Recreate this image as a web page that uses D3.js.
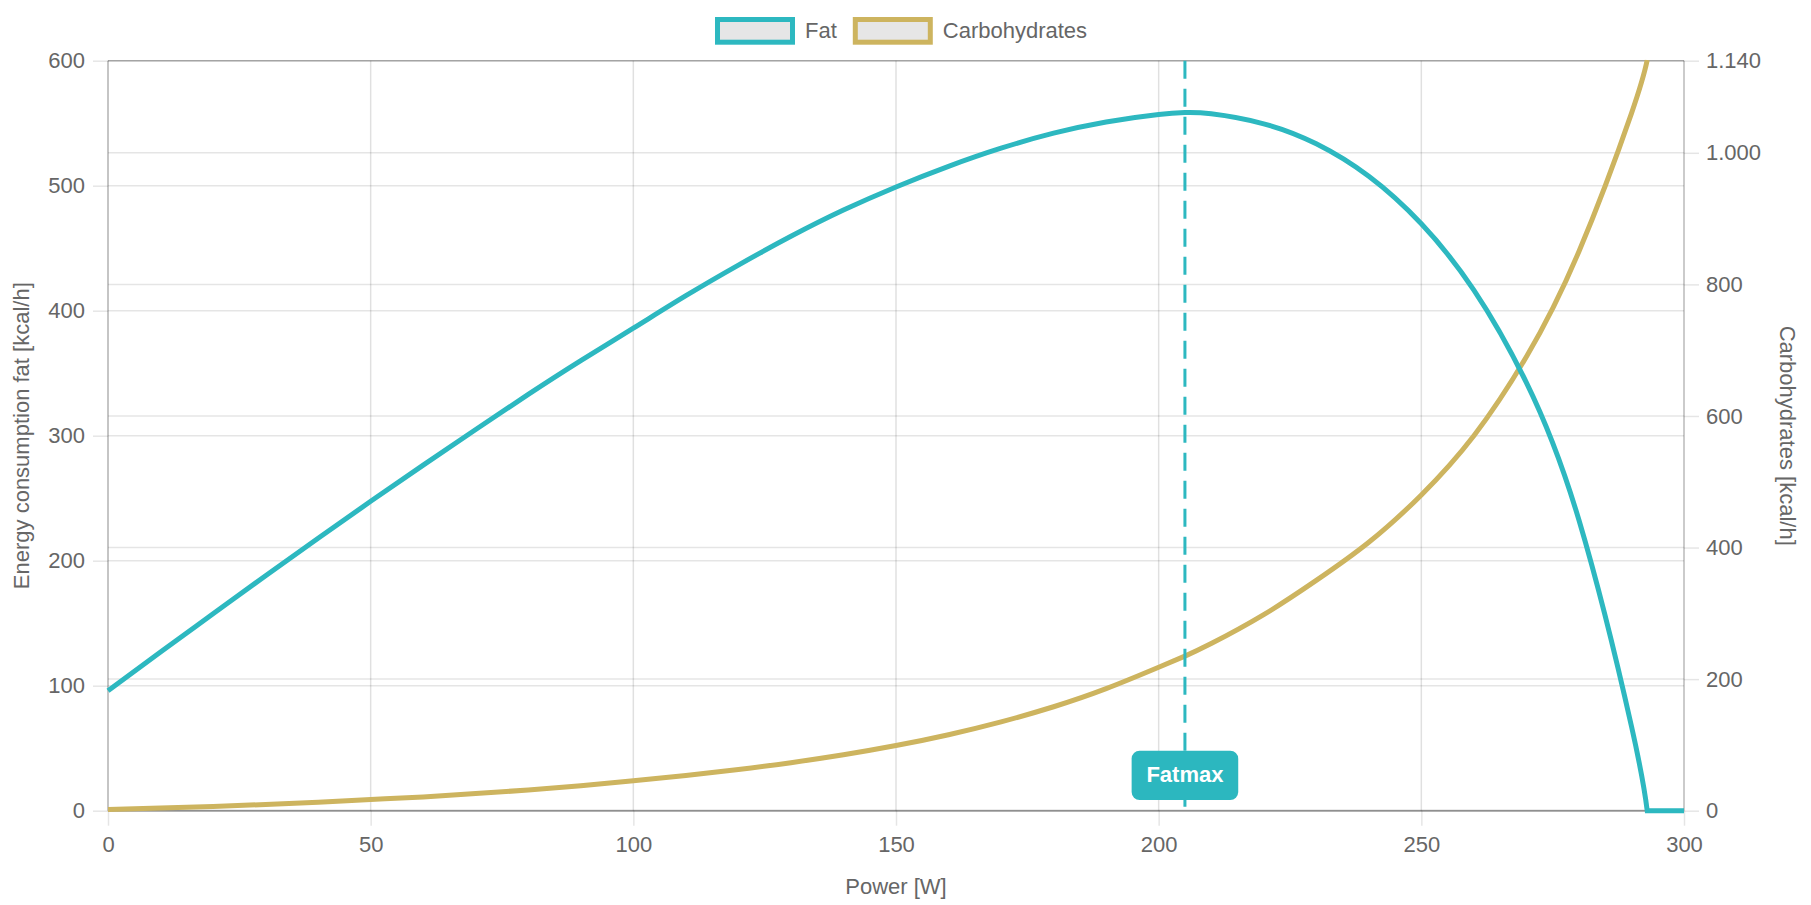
<!DOCTYPE html>
<html>
<head>
<meta charset="utf-8">
<script src="https://cdn.jsdelivr.net/npm/d3@7"></script>
<style>
  body { margin: 0; background: #fff; }
  svg text { font-family: "Liberation Sans", Arial, Helvetica, sans-serif; fill: #666; }
</style>
</head>
<body>
<div id="chart"></div>
<script>
// values
const power = [0, 10, 20, 30, 40, 50, 60, 70, 80, 90, 100, 110, 120, 130, 140, 150, 160, 170, 180, 190, 200, 205,
               210, 220, 230, 240, 250, 260, 270, 280, 290, 293, 300];
const fat = [96, 127, 157.5, 188, 218, 247.5, 276.5, 305, 333, 360, 386, 412, 436.5, 459.5, 480.5, 499, 515.5, 530, 542, 551, 557, 558.5,
             557.5, 549.5, 533.5, 507.5, 469.5, 416.5, 342.5, 232.5, 67.5, 0, 0];
const carbs = [2, 4, 6.5, 9.5, 13, 17, 21, 26, 31.5, 38, 45.5, 53.5, 62.5, 73, 85, 99, 115.5, 135, 158, 185.5, 218, 235,
               254, 298, 350, 408, 480, 570, 690, 850, 1060, 1141, null];
const powerTicks = [0, 50, 100, 150, 200, 250, 300];
const fatTicks = [0, 100, 200, 300, 400, 500, 600];
const carbTicks = [0, 200, 400, 600, 800, 1000, 1140];
const fatmax = 205;
const fatZeroFrom = 293;
const seriesNames = ['Fat', 'Carbohydrates'];
const seriesColors = ['#2db8c0', '#cdb45f'];

const width = 1811, height = 905;
const margin = {top: 60.7, right: 127, bottom: 94.3, left: 108};
const innerW = width - margin.left - margin.right;
const innerH = height - margin.top - margin.bottom;
const fontSize = 22;

const svg = d3.select('#chart').append('svg')
    .attr('width', width)
    .attr('height', height);

const x = d3.scaleLinear().domain([0, 300]).range([margin.left, margin.left + innerW]);
const yLeft = d3.scaleLinear().domain([0, 600]).range([margin.top + innerH, margin.top]);
const yRight = d3.scaleLinear().domain([0, 1140]).range([margin.top + innerH, margin.top]);

const de = d3.formatLocale({decimal: ',', thousands: '.', grouping: [3], currency: ['', '€']});
const fmt = de.format(',');

const x0 = margin.left, x1 = margin.left + innerW;
const yTop = margin.top, yBot = margin.top + innerH;

// grid lines
const grid = svg.append('g').attr('class', 'grid');
grid.selectAll('.vgrid').data(powerTicks).join('line')
    .attr('x1', d => x(d)).attr('x2', d => x(d))
    .attr('y1', yTop).attr('y2', yBot)
    .attr('stroke', 'rgba(0,0,0,0.12)').attr('stroke-width', 1.5);
grid.selectAll('.lgrid').data(fatTicks).join('line')
    .attr('x1', x0).attr('x2', x1)
    .attr('y1', d => yLeft(d)).attr('y2', d => yLeft(d))
    .attr('stroke', 'rgba(0,0,0,0.1)').attr('stroke-width', 1.5);
grid.selectAll('.rgrid').data(carbTicks).join('line')
    .attr('x1', x0).attr('x2', x1)
    .attr('y1', d => yRight(d)).attr('y2', d => yRight(d))
    .attr('stroke', 'rgba(0,0,0,0.1)').attr('stroke-width', 1.5);

// axes
function styleAxis(g){
    g.select('.domain').remove();
    g.selectAll('.tick line').attr('stroke', 'rgba(0,0,0,0.1)').attr('stroke-width', 1.5);
    g.selectAll('.tick text').attr('font-size', fontSize).attr('fill', '#666');
}
svg.append('g')
    .attr('transform', 'translate(' + x0 + ',0)')
    .call(d3.axisLeft(yLeft).tickValues(fatTicks).tickSize(15).tickPadding(8).tickFormat(fmt))
    .call(styleAxis);
svg.append('g')
    .attr('transform', 'translate(' + x1 + ',0)')
    .call(d3.axisRight(yRight).tickValues(carbTicks).tickSize(15).tickPadding(7).tickFormat(fmt))
    .call(styleAxis);
svg.append('g')
    .attr('transform', 'translate(0,' + yBot + ')')
    .call(d3.axisBottom(x).tickValues(powerTicks).tickSize(15).tickPadding(11).tickFormat(fmt))
    .call(styleAxis);

// chart borders
svg.append('line').attr('x1', x0).attr('x2', x0).attr('y1', yTop).attr('y2', yBot)
    .attr('stroke', 'rgba(0,0,0,0.2)').attr('stroke-width', 1.5);
svg.append('line').attr('x1', x1).attr('x2', x1).attr('y1', yTop).attr('y2', yBot)
    .attr('stroke', 'rgba(0,0,0,0.17)').attr('stroke-width', 1.5);
svg.append('line').attr('x1', x0).attr('x2', x1).attr('y1', yTop).attr('y2', yTop)
    .attr('stroke', 'rgba(0,0,0,0.2)').attr('stroke-width', 1.5);
svg.append('line').attr('x1', x0).attr('x2', x1).attr('y1', yBot).attr('y2', yBot)
    .attr('stroke', 'rgba(0,0,0,0.3)').attr('stroke-width', 2);

// axis titles
svg.append('text')
    .attr('x', (x0 + x1) / 2).attr('y', 894)
    .attr('text-anchor', 'middle').attr('font-size', fontSize)
    .text('Power [W]');
svg.append('text')
    .attr('transform', 'translate(28.5,' + ((yTop + yBot) / 2) + ')rotate(-90)')
    .attr('text-anchor', 'middle').attr('font-size', fontSize)
    .text('Energy consumption fat [kcal/h]');
svg.append('text')
    .attr('transform', 'translate(1780,' + ((yTop + yBot) / 2) + ')rotate(90)')
    .attr('text-anchor', 'middle').attr('font-size', fontSize)
    .text('Carbohydrates [kcal/h]');

// lines
svg.append('clipPath').attr('id', 'area')
    .append('rect').attr('x', x0 - 3).attr('y', yTop - 1)
    .attr('width', innerW + 6).attr('height', innerH + 5);

const points = power.map((p, i) => ({p: p, fat: fat[i], carbs: carbs[i]}));
const fatCurvePts = points.filter(d => d.p <= fatZeroFrom);
const fatFlatPts = points.filter(d => d.p >= fatZeroFrom);
const carbPts = points.filter(d => d.carbs !== null);

const fatLine = d3.line()
    .x(d => x(d.p)).y(d => yLeft(d.fat))
    .curve(d3.curveNatural);
const fatFlat = d3.line()
    .x(d => x(d.p)).y(d => yLeft(d.fat));
const carbLine = d3.line()
    .x(d => x(d.p)).y(d => yRight(d.carbs))
    .curve(d3.curveNatural);

const lines = svg.append('g').attr('clip-path', 'url(#area)');
lines.append('path').datum(carbPts)
    .attr('d', carbLine)
    .attr('fill', 'none').attr('stroke', seriesColors[1])
    .attr('stroke-width', 5).attr('stroke-linejoin', 'round');
lines.append('path')
    .attr('d', fatLine(fatCurvePts) + fatFlat(fatFlatPts).replace(/^M/, 'L'))
    .attr('fill', 'none').attr('stroke', seriesColors[0])
    .attr('stroke-width', 5).attr('stroke-linejoin', 'miter');

// fatmax marker
svg.append('line')
    .attr('x1', x(fatmax)).attr('x2', x(fatmax))
    .attr('y1', yTop).attr('y2', yBot)
    .attr('stroke', seriesColors[0]).attr('stroke-width', 3)
    .attr('stroke-dasharray', '18,10');
svg.append('rect')
    .attr('x', x(fatmax) - 53.3).attr('y', yBot - 60)
    .attr('width', 106.6).attr('height', 49.3).attr('rx', 8)
    .attr('fill', '#2cb7bf');
svg.append('text')
    .attr('x', x(fatmax)).attr('y', yBot - 29)
    .attr('text-anchor', 'middle').attr('font-size', fontSize)
    .attr('font-weight', 'bold').style('fill', '#fff')
    .text('Fatmax');

// legend
const legend = svg.append('g');
let lx = 715;
seriesNames.forEach((name, i) => {
    legend.append('rect')
        .attr('x', lx + 2.5).attr('y', 19.5)
        .attr('width', 75).attr('height', 22.7)
        .attr('fill', '#e6e6e6')
        .attr('stroke', seriesColors[i]).attr('stroke-width', 5);
    const t = legend.append('text')
        .attr('x', lx + 90).attr('y', 37.5)
        .attr('font-size', fontSize)
        .text(name);
    lx += 90 + t.node().getComputedTextLength() + 16;
});
</script>
</body>
</html>
